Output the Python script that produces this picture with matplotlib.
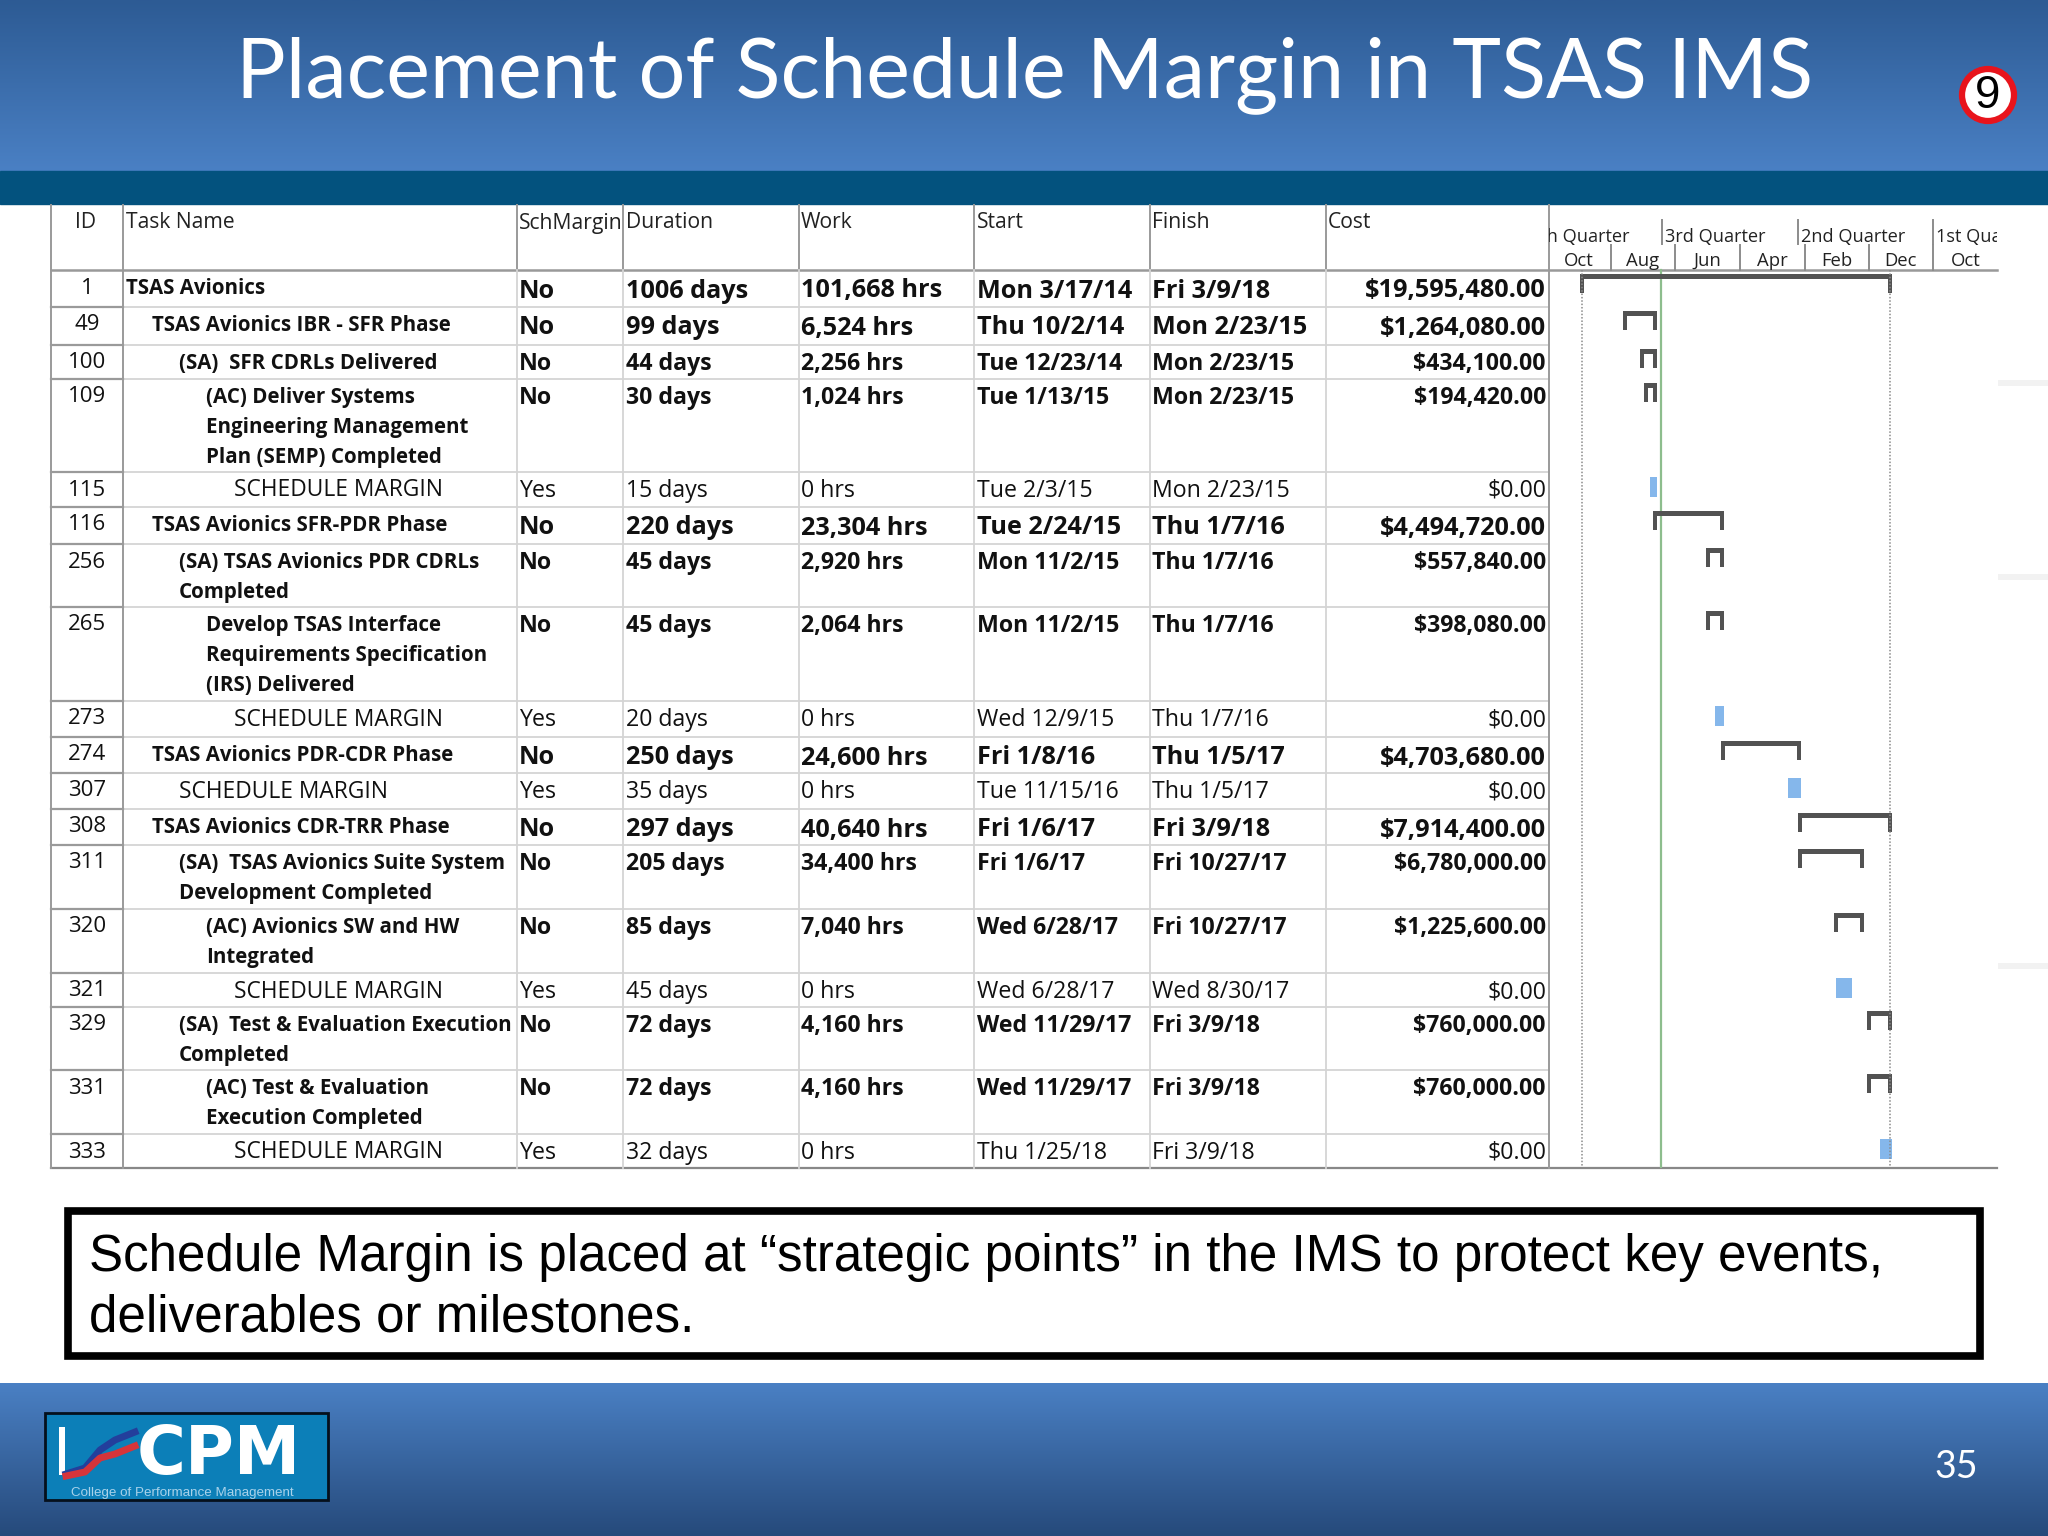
import numpy as np
import matplotlib
matplotlib.use("Agg")
import matplotlib.pyplot as plt
import matplotlib.dates as mdates
from matplotlib.patches import Rectangle, Circle
from datetime import datetime

# ---------- data ----------
ids = ["1","49","100","109","115","116","256","265","273","274","307","308","311","320","321","329","331","333"]
tasks = ["TSAS Avionics","TSAS Avionics IBR - SFR Phase","(SA)  SFR CDRLs Delivered",
 "(AC) Deliver Systems\nEngineering Management\nPlan (SEMP) Completed","SCHEDULE MARGIN","TSAS Avionics SFR-PDR Phase",
 "(SA) TSAS Avionics PDR CDRLs\nCompleted","Develop TSAS Interface\nRequirements Specification\n(IRS) Delivered","SCHEDULE MARGIN",
 "TSAS Avionics PDR-CDR Phase","SCHEDULE MARGIN","TSAS Avionics CDR-TRR Phase",
 "(SA)  TSAS Avionics Suite System\nDevelopment Completed","(AC) Avionics SW and HW\nIntegrated","SCHEDULE MARGIN",
 "(SA)  Test & Evaluation Execution\nCompleted","(AC) Test & Evaluation\nExecution Completed","SCHEDULE MARGIN"]
margins = ["No","No","No","No","Yes","No","No","No","Yes","No","Yes","No","No","No","Yes","No","No","Yes"]
durations = ["1006 days","99 days","44 days","30 days","15 days","220 days","45 days","45 days","20 days","250 days","35 days","297 days","205 days","85 days","45 days","72 days","72 days","32 days"]
works = ["101,668 hrs","6,524 hrs","2,256 hrs","1,024 hrs","0 hrs","23,304 hrs","2,920 hrs","2,064 hrs","0 hrs","24,600 hrs","0 hrs","40,640 hrs","34,400 hrs","7,040 hrs","0 hrs","4,160 hrs","4,160 hrs","0 hrs"]
starts = ["Mon 3/17/14","Thu 10/2/14","Tue 12/23/14","Tue 1/13/15","Tue 2/3/15","Tue 2/24/15","Mon 11/2/15","Mon 11/2/15","Wed 12/9/15","Fri 1/8/16","Tue 11/15/16","Fri 1/6/17","Fri 1/6/17","Wed 6/28/17","Wed 6/28/17","Wed 11/29/17","Wed 11/29/17","Thu 1/25/18"]
finishes = ["Fri 3/9/18","Mon 2/23/15","Mon 2/23/15","Mon 2/23/15","Mon 2/23/15","Thu 1/7/16","Thu 1/7/16","Thu 1/7/16","Thu 1/7/16","Thu 1/5/17","Thu 1/5/17","Fri 3/9/18","Fri 10/27/17","Fri 10/27/17","Wed 8/30/17","Fri 3/9/18","Fri 3/9/18","Fri 3/9/18"]
costs = ["$19,595,480.00","$1,264,080.00","$434,100.00","$194,420.00","$0.00","$4,494,720.00","$557,840.00","$398,080.00","$0.00","$4,703,680.00","$0.00","$7,914,400.00","$6,780,000.00","$1,225,600.00","$0.00","$760,000.00","$760,000.00","$0.00"]
indent_levels = [0,1,2,3,4,1,2,3,4,1,2,1,2,3,4,2,3,4]
headers = ["ID","Task Name","SchMargin","Duration","Work","Start","Finish","Cost"]
quarter_names = ["4th Quarter","3rd Quarter","2nd Quarter","1st Quarter"]
quarter_dates = ["2013-07-01","2015-04-01","2017-01-01","2018-10-01"]
month_names = ["Oct","Aug","Jun","Apr","Feb","Dec","Oct"]
month_dates = ["2013-10-01","2014-08-01","2015-06-01","2016-04-01","2017-02-01","2017-12-01","2018-10-01","2019-08-01"]
project_start, project_finish, status_date = "2014-03-17", "2018-03-09", "2015-03-26"

# ---------- layout (pixels) ----------
W, H = 2048, 1536
row_lines = [270,307,345,379,472,507,544,607,701,737,773,809,845,909,973,1007,1070,1134,1168]
col_lines = [51,123,517,623,799,974,1150,1326,1549]
right_edge = 1997
indent_x = [125.5,152,179,206,234]
TXT = "#111111"
plt.rcParams['font.family'] = ['Open Sans','DejaVu Sans']

fig = plt.figure(figsize=(W/100, H/100), dpi=100, facecolor="white")
ax = fig.add_axes([0,0,1,1])
ax.set_axis_off()

def grad(y0, y1, c0, c1):
    c0 = np.array(matplotlib.colors.to_rgb(c0)); c1 = np.array(matplotlib.colors.to_rgb(c1))
    t = np.linspace(0,1,128)[:,None,None]
    img = c0[None,None,:]*(1-t) + c1[None,None,:]*t
    ax.imshow(img, extent=[0,W,y1,y0], aspect='auto', zorder=0)

grad(0,171,"#2d5b94","#4a80c4")
ax.add_patch(Rectangle((0,171),W,33,color="#03527e",zorder=1))
grad(1383,H,"#4a80c4","#264a7b")
ax.set_xlim(0,W); ax.set_ylim(H,0)

# title etc.
ax.text(1025,75,"Placement of Schedule Margin in TSAS IMS",color="white",family="Lato",fontsize=59.6,ha="center",va="center",zorder=3)
ax.add_patch(Circle((1988,95),26,fc="white",ec="#e8141c",lw=4.5,zorder=3))
ax.text(1988,96,"9",color="black",family="Liberation Sans",fontsize=33,ha="center",va="center",zorder=4)
ax.text(1956,1467,"35",color="white",family="Lato",fontsize=27,ha="center",va="center",zorder=3)

# faint slide residue to the right of the table
for y in (383,577,966):
    ax.add_patch(Rectangle((1998,y-3),50,6,fc="#f2f2f2",ec="none",zorder=1))

# table grid
for y in row_lines[1:-1]:
    ax.plot([col_lines[1],col_lines[-1]],[y,y],color="#d4d4d4",lw=1.3,zorder=2)
    ax.plot([col_lines[0],col_lines[1]],[y,y],color="#9a9a9a",lw=1.6,zorder=2)
ax.plot([col_lines[0],right_edge],[270,270],color="#999999",lw=1.8,zorder=2)
ax.plot([col_lines[0],right_edge],[1168,1168],color="#888888",lw=1.6,zorder=2)
for i,x in enumerate(col_lines):
    full = i<2 or i==len(col_lines)-1
    ax.plot([x,x],[205,1168 if full else 270],color="#9a9a9a",lw=1.4,zorder=2)
    if not full:
        ax.plot([x,x],[270,1168],color="#d4d4d4",lw=1.3,zorder=2)

# headers
hx = [86,125.5,519,626,801,977,1152,1328]
for k,(h,x) in enumerate(zip(headers,hx)):
    ax.text(x,223,h,color="#222222",fontsize=15.2,ha="center" if k==0 else "left",va="center",zorder=3)

# rows
big = {0,1,5,9,11}
for i in range(len(ids)):
    top = row_lines[i]
    is_margin = margins[i]=="Yes"
    task_w = "normal" if is_margin else "bold"
    val_w = "normal" if is_margin else "bold"
    fs_val = 18.2 if i in big else 16.7
    ax.text(87,top+18,ids[i],color=TXT,fontsize=16,ha="center",va="center",zorder=3)
    for n,line in enumerate(tasks[i].split("\n")):
        ax.text(indent_x[indent_levels[i]],top+18.5+n*30,line,color=TXT,fontsize=14.8 if not is_margin else 16.4,
                fontweight=task_w,ha="left",va="center",zorder=3)
    dy = 21 if i in big else 19
    for x,s in zip([519,626,801,977,1152],[margins[i],durations[i],works[i],starts[i],finishes[i]]):
        ax.text(x,top+dy,s,color=TXT,fontsize=fs_val,fontweight=val_w,ha="left",va="center",zorder=3)
    ax.text(1546,top+dy,costs[i],color=TXT,fontsize=fs_val,fontweight=val_w,ha="right",va="center",zorder=3)

# callout
ax.add_patch(Rectangle((68,1211),1912,145,fc="white",ec="black",lw=5.5,zorder=2))
ax.text(89,1257,"Schedule Margin is placed at \u201cstrategic points\u201d in the IMS to protect key events,",
        family="Liberation Sans",fontsize=36.8,color="black",va="center",zorder=3)
ax.text(89,1318,"deliverables or milestones.",family="Liberation Sans",fontsize=36.8,color="black",va="center",zorder=3)

# logo
ax.add_patch(Rectangle((45,1413),283,87,fc="#0c7fb8",ec="#05101c",lw=2,zorder=2))
ax.add_patch(Rectangle((59,1427),6,48,fc="white",ec="none",zorder=3))
lx = np.array([66,85,100,115,135]); 
ax.plot(lx,[1474,1468,1450,1440,1432],color="#233f9c",lw=5,zorder=3)
ax.plot(lx,[1476,1472,1458,1454,1446],color="#d6343a",lw=5,zorder=3)
ax.text(219,1474,"CPM",family="DejaVu Sans",fontweight="bold",fontsize=48,color="white",ha="center",va="baseline",zorder=4)
ax.text(182,1493,"College of Performance Management",family="Liberation Sans",fontsize=9.6,color="#a8d2ea",ha="center",va="center",zorder=4)

# gantt
d = lambda s: mdates.date2num(datetime.strptime(s,"%Y-%m-%d"))
pd_ = lambda s: mdates.date2num(datetime.strptime(s.split()[1],"%m/%d/%y"))
gx = fig.add_axes([col_lines[-1]/W, 1-1168/H, (right_edge-col_lines[-1])/W, (1168-205)/H], zorder=5)
gx.patch.set_alpha(0); gx.set_axis_off()
gx.set_xlim(d("2013-10-14"),d("2019-07-29")); gx.set_ylim(1168,205)
days_per_px = (gx.get_xlim()[1]-gx.get_xlim()[0])/(right_edge-col_lines[-1])

for q,name in zip(quarter_dates,quarter_names):
    x = d(q)
    gx.plot([x,x],[220,244],color="#8c8c8c",lw=1.4,clip_on=True)
    gx.text(x+3*days_per_px,237,name,color="#222222",fontsize=13.1,va="center",ha="left",clip_on=True)
for a,b,name in zip(month_dates[:-1],month_dates[1:],month_names):
    gx.plot([d(a),d(a)],[245,270],color="#8c8c8c",lw=1.4)
    gx.text((d(a)+d(b))/2,261,name,color="#222222",fontsize=13.3,va="center",ha="center",clip_on=True)

gx.plot([d(project_start)]*2,[270,1168],color="#8a8a8a",lw=1.1,ls=(0,(1,1.2)),zorder=4)
gx.plot([d(project_finish)]*2,[270,1168],color="#8a8a8a",lw=1.1,ls=(0,(1,1.2)),zorder=4)
gx.plot([d(status_date)]*2,[270,1168],color="#8dbd8d",lw=1.6,zorder=2)

BAR="#525252"
for i in range(len(ids)):
    top = row_lines[i]
    if margins[i]=="Yes":
        s = pd_(starts[i]) - 1; f = pd_(finishes[i]) + 12
        gx.barh(top+4.5,f-s,height=20,left=s,align="edge",color="#85b7eb",zorder=3)
    else:
        s = pd_(starts[i]) - 6; f = pd_(finishes[i]) + 12
        leg = 4*days_per_px
        gx.barh(top+4,f-s,height=5,left=s,align="edge",color=BAR,zorder=3)
        gx.barh(top+4,leg,height=19,left=s,align="edge",color=BAR,zorder=3)
        gx.barh(top+4,leg,height=19,left=f-leg,align="edge",color=BAR,zorder=3)

fig.savefig("out.png",dpi=100)
